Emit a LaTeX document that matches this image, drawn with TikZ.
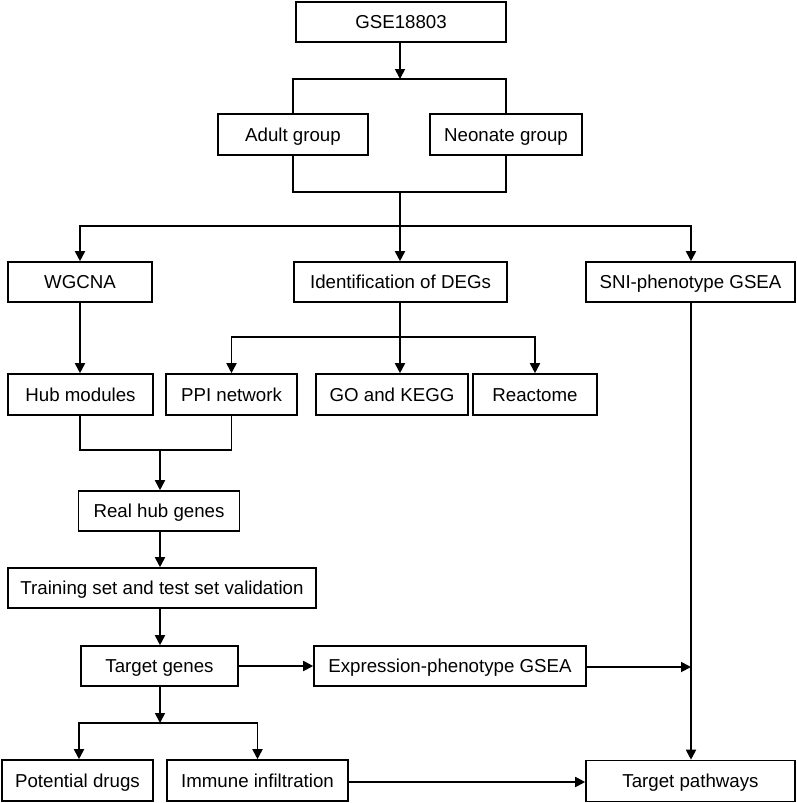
\documentclass[tikz,border=0pt]{standalone}
\usepackage{fontspec}
\setmainfont{Liberation Sans}
\usetikzlibrary{arrows.meta}
\begin{document}
\begin{tikzpicture}[x=1pt,y=-1pt,
  box/.style={draw, line width=1.6pt, rectangle, inner sep=0pt, minimum height=40pt,
    text height=13.3pt, text depth=0pt,
    font=\fontsize{18.7}{20}\selectfont},
  conn/.style={line width=1.8pt},
  arr/.style={conn, -{Triangle[length=10pt,width=10pt]}}]
\useasboundingbox[fill=white] (0,0) rectangle (796,803);
% nodes
\node[box, minimum width=210pt] (gse) at (401,22) {GSE18803};
\node[box, minimum width=150pt, minimum height=41pt] (adult) at (293,134.5) {Adult group};
\node[box, minimum width=152pt, minimum height=41pt] (neo) at (506,134.5) {Neonate group};
\node[box, minimum width=144pt] (wgcna) at (80,282) {WGCNA};
\node[box, minimum width=213pt] (degs) at (400.5,282) {Identification of DEGs};
\node[box, minimum width=209pt] (sni) at (690.5,282) {SNI-phenotype GSEA};
\node[box, minimum width=145pt, minimum height=41pt] (hub) at (80.5,394.5) {Hub modules};
\node[box, minimum width=131pt, minimum height=41pt] (ppi) at (231.5,394.5) {PPI network};
\node[box, minimum width=152pt, minimum height=41pt] (gok) at (392,394.5) {GO and KEGG};
\node[box, minimum width=124pt, minimum height=41pt] (rea) at (535,394.5) {Reactome};
\node[box, minimum width=161pt] (real) at (159,511) {Real hub genes};
\node[box, minimum width=308pt] (train) at (162,588) {Training set and test set validation};
\node[box, minimum width=157pt] (tgt) at (159.5,666) {Target genes};
\node[box, minimum width=272pt] (expr) at (450,666) {Expression-phenotype GSEA};
\node[box, minimum width=151pt, minimum height=41pt] (drug) at (77.5,780.5) {Potential drugs};
\node[box, minimum width=181pt, minimum height=41pt] (imm) at (257.5,780.5) {Immune infiltration};
\node[box, minimum width=209pt, minimum height=41pt] (path) at (690.5,781) {Target pathways};
% junction coordinates
\coordinate (c1) at (400,79);
\coordinate (c2) at (400,192);
\coordinate (c3) at (400,226);
\coordinate (c4) at (400,337);
\coordinate (c5) at (160,450);
\coordinate (c6) at (160,723);
\coordinate (c7) at (691,667);
\coordinate (cw) at (80,0);
\coordinate (cd) at (79,0);
\coordinate (cy) at (0,782);
% connectors
\draw[arr] (gse.south -| c1) -- (c1);
\draw[conn] (adult.north) |- (c1) -| (neo.north);
\draw[conn] (adult.south) |- (c2) -| (neo.south);
\draw[conn] (c2) -- (c3);
\draw[arr] (c3) -| (wgcna.north -| cw);
\draw[arr] (c3) -- (c3 |- degs.north);
\draw[arr] (c3) -| (sni.north -| c7);
\draw[conn] (degs.south -| c4) -- (c4);
\draw[arr] (c4) -| (ppi.north);
\draw[arr] (c4) -- (c4 |- gok.north);
\draw[arr] (c4) -| (rea.north);
\draw[arr] (wgcna.south -| cw) -- (hub.north -| cw);
\draw[conn] (hub.south -| cw) |- (c5) -| (ppi.south);
\draw[arr] (c5) -- (c5 |- real.north);
\draw[arr] (real.south -| c5) -- (c5 |- train.north);
\draw[arr] (train.south -| c5) -- (c5 |- tgt.north);
\draw[arr] (tgt.south -| c6) -- (c6);
\draw[arr] (c6) -| (drug.north -| cd);
\draw[arr] (c6) -| (imm.north);
\draw[arr] (tgt.east) -- (expr.west);
\draw[arr] (expr.east |- c7) -- (c7);
\draw[arr] (sni.south -| c7) -- (path.north -| c7);
\draw[arr] (imm.east |- cy) -- (path.west |- cy);
\end{tikzpicture}
\end{document}
